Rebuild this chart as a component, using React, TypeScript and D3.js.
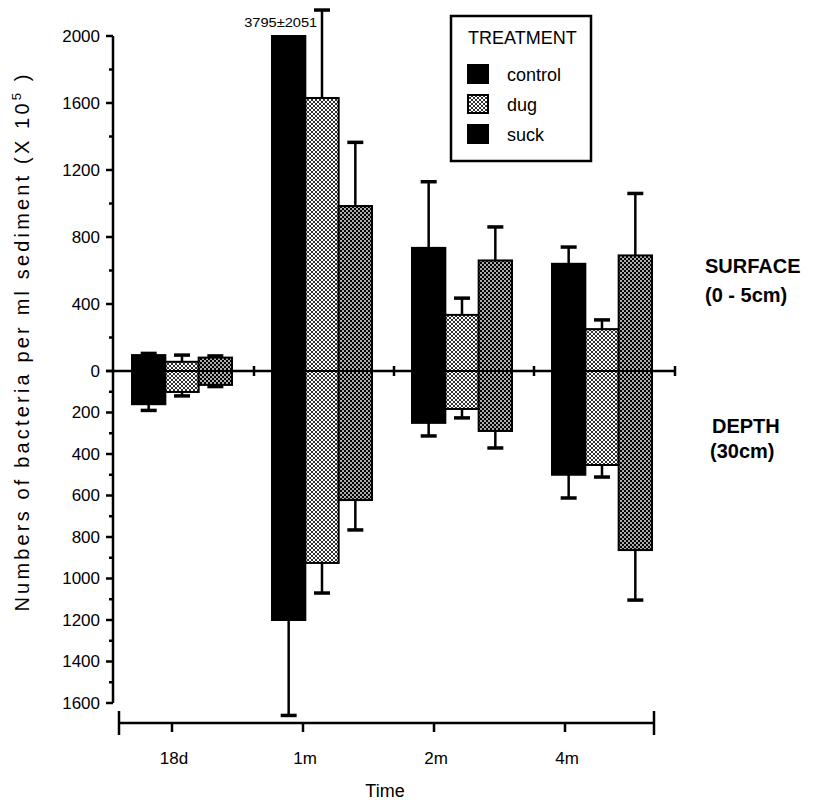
import React from "react";
import { scaleBand, scaleLinear, scalePoint, range } from "d3";

// time points and treatments
const categories = ["18d", "1m", "2m", "4m"];
const series = ["control", "dug", "suck"];

// surface (0 - 5cm), values x 10^5 per ml
const surfaceControl = [95, 3795, 735, 640];
const surfaceControlErr = [10, 2051, 395, 100];
const surfaceDug = [55, 1630, 335, 250];
const surfaceDugErr = [40, 525, 100, 55];
const surfaceSuck = [80, 985, 660, 690];
const surfaceSuckErr = [10, 380, 200, 370];

// depth (30cm)
const depthControl = [160, 1200, 250, 500];
const depthControlErr = [30, 460, 63, 112];
const depthDug = [101, 925, 183, 453];
const depthDugErr = [19, 145, 43, 58];
const depthSuck = [67, 622, 289, 863];
const depthSuckErr = [8, 144, 82, 241];

const upperTicks = [0, 400, 800, 1200, 1600, 2000];
const lowerTicks = [200, 400, 600, 800, 1000, 1200, 1400, 1600];

const surface = [surfaceControl, surfaceDug, surfaceSuck];
const surfaceErr = [surfaceControlErr, surfaceDugErr, surfaceSuckErr];
const depth = [depthControl, depthDug, depthSuck];
const depthErr = [depthControlErr, depthDugErr, depthSuckErr];

const font = "'Liberation Sans', Arial, Helvetica, sans-serif";

const App = () => {
  const width = 813;
  const height = 800;
  const axisX = 113;

  const yUp = scaleLinear().domain([0, 2000]).range([371, 36]);
  const yDown = scaleLinear().domain([0, 1600]).range([371, 703]);
  const zero = yUp(0);

  const xGroup = scaleBand()
    .domain(categories)
    .range([112, 672])
    .paddingInner(0.2857)
    .paddingOuter(0.1429);
  const xBar = scaleBand().domain(series).range([0, xGroup.bandwidth()]);

  // the time axis below is drawn separately in the original figure
  const xTime = scalePoint().domain(categories).range([172, 565]);

  const fills = ["#000", "url(#dugPat)", "url(#suckPat)"];
  const capW = 16;

  const bars: any[] = [];
  series.forEach((s, si) => {
    categories.forEach((c, ci) => {
      const x = xGroup(c)! + xBar(s)!;
      const w = xBar.bandwidth();
      const cx = x + w / 2;
      const v = surface[si][ci];
      const e = surfaceErr[si][ci];
      const top = Math.max(yUp(v), yUp(2000));
      bars.push(
        <rect key={`s${si}${ci}`} x={x} y={top} width={w} height={zero - top}
          fill={fills[si]} stroke="#000" strokeWidth={2} />
      );
      if (v <= 2000) {
        const ey = yUp(v + e);
        bars.push(
          <g key={`se${si}${ci}`} stroke="#000">
            <line x1={cx} x2={cx} y1={top} y2={ey} strokeWidth={2.5} />
            <line x1={cx - capW / 2} x2={cx + capW / 2} y1={ey} y2={ey} strokeWidth={3.5} />
          </g>
        );
      }
      const d = depth[si][ci];
      const de = depthErr[si][ci];
      const bot = yDown(d);
      const ebot = yDown(d + de);
      bars.push(
        <rect key={`d${si}${ci}`} x={x} y={zero} width={w} height={bot - zero}
          fill={fills[si]} stroke="#000" strokeWidth={2} />
      );
      bars.push(
        <g key={`de${si}${ci}`} stroke="#000">
          <line x1={cx} x2={cx} y1={bot} y2={ebot} strokeWidth={2.5} />
          <line x1={cx - capW / 2} x2={cx + capW / 2} y1={ebot} y2={ebot} strokeWidth={3.5} />
        </g>
      );
    });
  });

  // ticks on the zero line, between groups
  const step = xGroup.step();
  const zeroTicks = categories.slice(1).map((c) => xGroup(c)! - (step - xGroup.bandwidth()) / 2 + 2);
  const zeroEnd = xGroup(categories[categories.length - 1])! + xGroup.bandwidth() + 23;

  const upperMinor = range(200, 2000, 400);
  const lowerMinor = range(100, 1600, 200);

  const xAxisY = 723;
  const xAxisL = 119;
  const xAxisR = 654;

  return (
    <svg width={width} height={height} style={{ position: "absolute", left: 0, top: 0 }}
      fontFamily={font}>
      <defs>
        <pattern id="dugPat" width={4} height={4} patternUnits="userSpaceOnUse">
          <rect width={4} height={4} fill="#fff" />
          <circle cx={0} cy={0} r={1.1} fill="#000" />
          <circle cx={4} cy={0} r={1.1} fill="#000" />
          <circle cx={0} cy={4} r={1.1} fill="#000" />
          <circle cx={4} cy={4} r={1.1} fill="#000" />
          <circle cx={2} cy={2} r={1.1} fill="#000" />
        </pattern>
        <pattern id="suckPat" width={4} height={4} patternUnits="userSpaceOnUse">
          <rect width={4} height={4} fill="#000" />
          <circle cx={1} cy={1} r={0.9} fill="#fff" />
          <circle cx={3} cy={3} r={0.9} fill="#fff" />
        </pattern>
      </defs>
      <rect width={width} height={height} fill="#fff" />

      {/* zero line */}
      <line x1={axisX - 7} x2={zeroEnd} y1={zero} y2={zero} stroke="#000" strokeWidth={2.5} />
      <line x1={zeroEnd} x2={zeroEnd} y1={zero - 5} y2={zero + 5} stroke="#000" strokeWidth={2.5} />
      {zeroTicks.map((t, i) => (
        <line key={i} x1={t} x2={t} y1={zero - 5} y2={zero + 5} stroke="#000" strokeWidth={2.5} />
      ))}

      {bars}

      {/* y axis */}
      <line x1={axisX} x2={axisX} y1={yUp(2000)} y2={yDown(1600)} stroke="#000" strokeWidth={2.5} />
      {upperTicks.map((t) => (
        <g key={`u${t}`}>
          <line x1={axisX - 7} x2={axisX} y1={yUp(t)} y2={yUp(t)} stroke="#000" strokeWidth={2.5} />
          <text x={100} y={yUp(t)} dy="0.35em" textAnchor="end" fontSize={17}>{t}</text>
        </g>
      ))}
      {upperMinor.map((t) => (
        <line key={`um${t}`} x1={axisX - 4} x2={axisX} y1={yUp(t)} y2={yUp(t)} stroke="#000" strokeWidth={2.5} />
      ))}
      {lowerTicks.map((t) => (
        <g key={`l${t}`}>
          <line x1={axisX - 7} x2={axisX} y1={yDown(t)} y2={yDown(t)} stroke="#000" strokeWidth={2.5} />
          <text x={100} y={yDown(t)} dy="0.35em" textAnchor="end" fontSize={17}>{t}</text>
        </g>
      ))}
      {lowerMinor.map((t) => (
        <line key={`lm${t}`} x1={axisX - 4} x2={axisX} y1={yDown(t)} y2={yDown(t)} stroke="#000" strokeWidth={2.5} />
      ))}

      {/* y title */}
      <text transform="translate(29,343) rotate(-90)" textAnchor="middle" fontSize={20}
        textLength={537} lengthAdjust="spacing">
        Numbers of bacteria per ml sediment (X 10<tspan dy={-8} fontSize={13}>5</tspan>
        <tspan dy={8}> )</tspan>
      </text>

      {/* clipped bar label */}
      <text x={xGroup("1m")! + xBar.bandwidth() / 2 - 8} y={27} textAnchor="middle" fontSize={12}
        textLength={73} lengthAdjust="spacingAndGlyphs">
        3795±2051
      </text>

      {/* x axis */}
      <line x1={xAxisL} x2={xAxisR} y1={xAxisY} y2={xAxisY} stroke="#000" strokeWidth={2.5} />
      <line x1={xAxisL} x2={xAxisL} y1={xAxisY - 12} y2={xAxisY + 12} stroke="#000" strokeWidth={2.5} />
      <line x1={xAxisR} x2={xAxisR} y1={xAxisY - 12} y2={xAxisY + 12} stroke="#000" strokeWidth={2.5} />
      {categories.map((c) => {
        const cx = xTime(c)!;
        return (
          <g key={c}>
            <line x1={cx} x2={cx} y1={xAxisY} y2={xAxisY + 9} stroke="#000" strokeWidth={2.5} />
            <text x={cx + 2} y={764} textAnchor="middle" fontSize={17}>{c}</text>
          </g>
        );
      })}
      <text x={385} y={797} textAnchor="middle" fontSize={18}>Time</text>

      {/* legend */}
      <rect x={451} y={16} width={140} height={145} fill="#fff" stroke="#000" strokeWidth={2.5} />
      <text x={468} y={44} fontSize={18}>TREATMENT</text>
      {series.map((s, i) => (
        <g key={s}>
          <rect x={468} y={65 + i * 30} width={20} height={18}
            fill={i === 2 ? "#000" : fills[i]} stroke="#000" strokeWidth={2} />
          <text x={507} y={81 + i * 30} fontSize={18}>{s}</text>
        </g>
      ))}

      {/* side labels */}
      <g fontWeight="bold" fontSize={20}>
        <text x={705} y={273}>SURFACE</text>
        <text x={705} y={302}>(0 - 5cm)</text>
        <text x={712} y={433}>DEPTH</text>
        <text x={710} y={458}>(30cm)</text>
      </g>
    </svg>
  );
};

export default App;
